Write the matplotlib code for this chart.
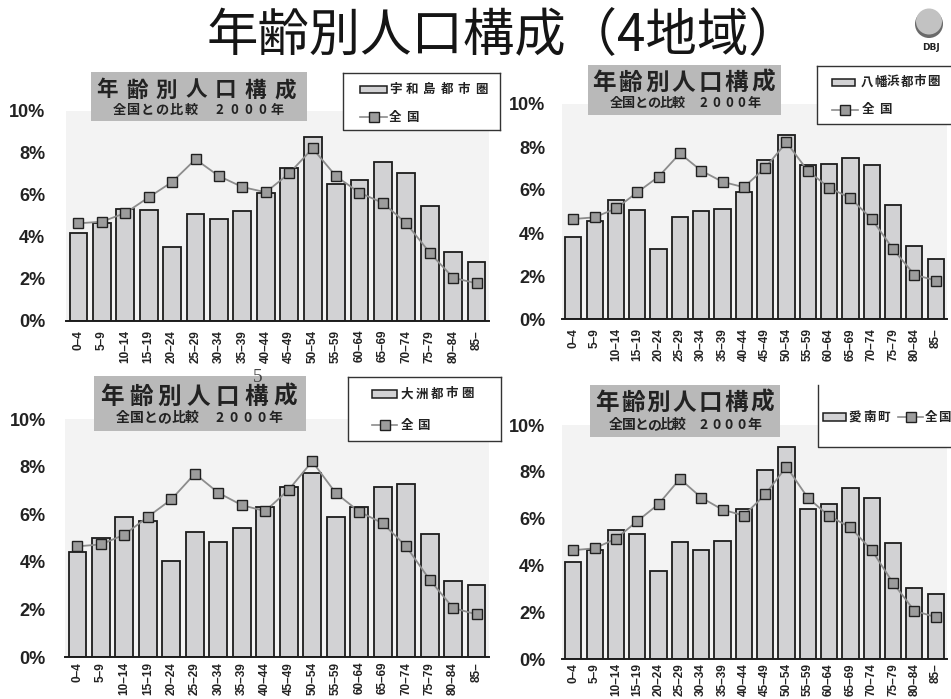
import matplotlib
matplotlib.use("Agg")
import matplotlib.pyplot as plt
from matplotlib.patches import Rectangle, Circle
from matplotlib.lines import Line2D
import numpy as np

# ---- data -------------------------------------------------------------
age_groups = ["0–4", "5–9", "10–14", "15–19", "20–24", "25–29", "30–34",
              "35–39", "40–44", "45–49", "50–54", "55–59", "60–64", "65–69",
              "70–74", "75–79", "80–84", "85–"]
national = [4.65, 4.73, 5.14, 5.89, 6.62, 7.70, 6.90, 6.38, 6.13, 7.03,
            8.22, 6.89, 6.11, 5.62, 4.65, 3.25, 2.06, 1.79]
uwajima = [4.17, 4.68, 5.33, 5.29, 3.54, 5.10, 4.84, 5.24, 6.08, 7.30,
           8.78, 6.52, 6.70, 7.57, 7.06, 5.49, 3.27, 2.79]
yawatahama = [3.81, 4.54, 5.55, 5.09, 3.27, 4.74, 5.01, 5.13, 5.91, 7.38,
              8.57, 7.18, 7.22, 7.47, 7.18, 5.32, 3.41, 2.81]
ozu = [4.42, 4.99, 5.90, 5.72, 4.04, 5.24, 4.83, 5.42, 6.29, 7.13,
       7.75, 5.90, 6.29, 7.13, 7.26, 5.18, 3.20, 3.02]
ainan = [4.14, 4.64, 5.53, 5.34, 3.74, 5.01, 4.66, 5.05, 6.39, 8.09,
         9.04, 6.43, 6.62, 7.30, 6.90, 4.94, 3.05, 2.77]

region_names = ["宇和島都市圏", "八幡浜都市圏", "大洲都市圏", "愛南町"]
national_name = "全国"
region_values = [uwajima, yawatahama, ozu, ainan]
y_ticks = [0, 2, 4, 6, 8, 10]
panel_title = "年齢別人口構成"
panel_subtitle = "全国との比較　2000年"
main_title = "年齢別人口構成（4地域）"

# ---- styles -----------------------------------------------------------
W, H = 951, 699
PX = 0.72  # points per pixel at 100 dpi
JP = ["Noto Sans CJK JP", "DejaVu Sans"]
NUM = ["Liberation Sans Narrow", "Liberation Sans", "DejaVu Sans"]
BAR_FACE = "#d2d2d4"
BAR_EDGE = "#1c1c1c"
LINE_C = "#8c8c8c"
MARK_FACE = "#9c9c9c"
PLOT_BG = "#f3f3f3"
BOX_GRAY = "#b9b9b9"
TXT = "#222222"

# pixel layout of each panel
panels = [
    dict(ax=(66, 111, 489, 321), pad=21, xpad=9,
         tbox=(91, 72, 307, 121), tchars=(107, 285, 90, 15.5), sub=(198, 110, 9.5, 170),
         lbox=(343, 73, 500, 130, True),
         patch=(360, 86, 387, 93), name=(395, 17.3, 89),
         line=(360, 387, 117), nat=(395, 17, 117)),
    dict(ax=(562, 104, 947, 319), pad=17, xpad=9,
         tbox=(588, 65, 781, 115), tchars=(604, 763, 83, 17), sub=(685, 103, 9.5, 150),
         lbox=(817, 66, 955, 124, True),
         patch=(832, 79, 855, 86), name=(867, 13.2, 82),
         line=(832, 858, 110), nat=(868, 17, 110)),
    dict(ax=(65, 419, 489, 657), pad=19, xpad=5,
         tbox=(94, 376, 306, 431), tchars=(112, 285, 397, 17), sub=(199, 418, 10, 165),
         lbox=(348, 377, 501, 441, True),
         patch=(372, 390, 397, 398), name=(407, 15, 394),
         line=(372, 397, 425), nat=(407, 16, 425)),
    dict(ax=(562, 425, 947, 659), pad=17, xpad=4,
         tbox=(590, 385, 780, 437), tchars=(607, 762, 403, 17), sub=(685, 425, 10, 150),
         lbox=(818, 385, 955, 447, False),
         patch=(823, 413, 846, 421), name=(855, 14, 417),
         line=(898, 923, 417), nat=(931, 13.5, 417)),
]

fig = plt.figure(figsize=(W / 100, H / 100), dpi=100)
fig.patch.set_facecolor("white")

x = np.arange(len(age_groups))

for p, vals in zip(panels, region_values):
    x0, y0, x1, y1 = p["ax"]
    ax = fig.add_axes([x0 / W, (H - y1) / H, (x1 - x0) / W, (y1 - y0) / H])
    ax.set_facecolor(PLOT_BG)
    ax.bar(x, vals, width=0.76, color=BAR_FACE, edgecolor=BAR_EDGE,
           linewidth=1.3, zorder=2)
    ax.plot(x, national, color=LINE_C, linewidth=1.3, marker="s",
            markersize=7.5, markerfacecolor=MARK_FACE, markeredgecolor="#202020",
            markeredgewidth=1.0, zorder=3)
    ax.set_xlim(-0.53, len(age_groups) - 0.47)
    ax.set_ylim(0, 10)
    ax.set_yticks(y_ticks)
    ax.set_yticklabels([f"{t}%" for t in y_ticks], family=NUM,
                       fontweight="bold", fontsize=13, color=TXT)
    ax.set_xticks(x)
    ax.set_xticklabels(age_groups, rotation=90, va="top", ha="center",
                       family=NUM, fontweight="bold", fontsize=8.5, color=TXT)
    ax.tick_params(axis="y", length=0, pad=p["pad"] * PX)
    ax.tick_params(axis="x", length=0, pad=p["xpad"] * PX)
    for s in ("left", "right", "top"):
        ax.spines[s].set_visible(False)
    ax.spines["bottom"].set_color(BAR_EDGE)
    ax.spines["bottom"].set_linewidth(1.4)
    ax.spines["bottom"].set_zorder(4)

# ---- overlay for titles, boxes and legends (pixel coordinates) --------
ov = fig.add_axes([0, 0, 1, 1], zorder=10)
ov.set_xlim(0, W)
ov.set_ylim(H, 0)
ov.axis("off")
ov.patch.set_alpha(0)


def spaced(text, xa, xb, y, size, **kw):
    n = len(text)
    xs = [xa] if n == 1 else np.linspace(xa, xb, n)
    for ch, xc in zip(text, xs):
        ov.text(xc, y, ch, ha="center", va="center", fontsize=size,
                family=JP, **kw)


def pitch(text, xa, step, y, size, **kw):
    spaced(text, xa, xa + step * (len(text) - 1), y, size, **kw)


for p, name in zip(panels, region_names):
    bx0, by0, bx1, by1 = p["tbox"]
    ov.add_patch(Rectangle((bx0, by0), bx1 - bx0, by1 - by0, facecolor=BOX_GRAY,
                           edgecolor="none"))
    ca, cb, cy, cs = p["tchars"]
    spaced(panel_title, ca, cb, cy, cs, fontweight="bold", color=TXT)
    sx, sy, ss, sw = p["sub"]
    spaced(panel_subtitle, sx - sw / 2 + 6, sx + sw / 2 - 6, sy, ss,
           fontweight="bold", color=TXT)

    lx0, ly0, lx1, ly1, top = p["lbox"]
    ov.add_patch(Rectangle((lx0, ly0), lx1 - lx0, ly1 - ly0, facecolor="white",
                           edgecolor="none"))
    ov.plot([lx0, lx0, lx1], [ly0, ly1, ly1], color="#333333", lw=1.0)
    if top:
        ov.plot([lx0, lx1], [ly0, ly0], color="#333333", lw=1.0)
        ov.plot([lx1, lx1], [ly0, ly1], color="#333333", lw=1.0)

    px0, py0, px1, py1 = p["patch"]
    ov.add_patch(Rectangle((px0, py0), px1 - px0, py1 - py0, facecolor=BAR_FACE,
                           edgecolor=BAR_EDGE, lw=1.1))
    nx, nstep, ny = p["name"]
    pitch(name, nx, nstep, ny, 9, fontweight="bold", color=TXT)
    lxa, lxb, lyy = p["line"]
    ov.add_line(Line2D([lxa, lxb], [lyy, lyy], color=LINE_C, lw=1.2))
    ov.add_line(Line2D([(lxa + lxb) / 2], [lyy], marker="s", markersize=6.5,
                       markerfacecolor=MARK_FACE, markeredgecolor="#202020",
                       markeredgewidth=1.0, linestyle="none"))
    tx, tstep, ty = p["nat"]
    pitch(national_name, tx, tstep, ty, 9, fontweight="bold", color=TXT)

# page number
ov.text(258, 377, "5", ha="center", va="center", fontsize=14,
        family=["Liberation Serif", "DejaVu Serif"], color="#444444")

# main title
ov.text(503, 36, main_title, ha="center", va="center", fontsize=37,
        family=JP, color="#151515")

# logo
ov.add_patch(Circle((929, 24), 14, facecolor="#6a6a6a", edgecolor="none"))
ov.add_patch(Circle((929, 21.5), 13, facecolor="#c2c2c2", edgecolor="none"))
ov.text(931, 48, "DBJ", ha="center", va="center", fontsize=6.5,
        fontweight="bold", family=["DejaVu Sans"], color="#222222")

fig.savefig("out.png", dpi=100, facecolor="white")
